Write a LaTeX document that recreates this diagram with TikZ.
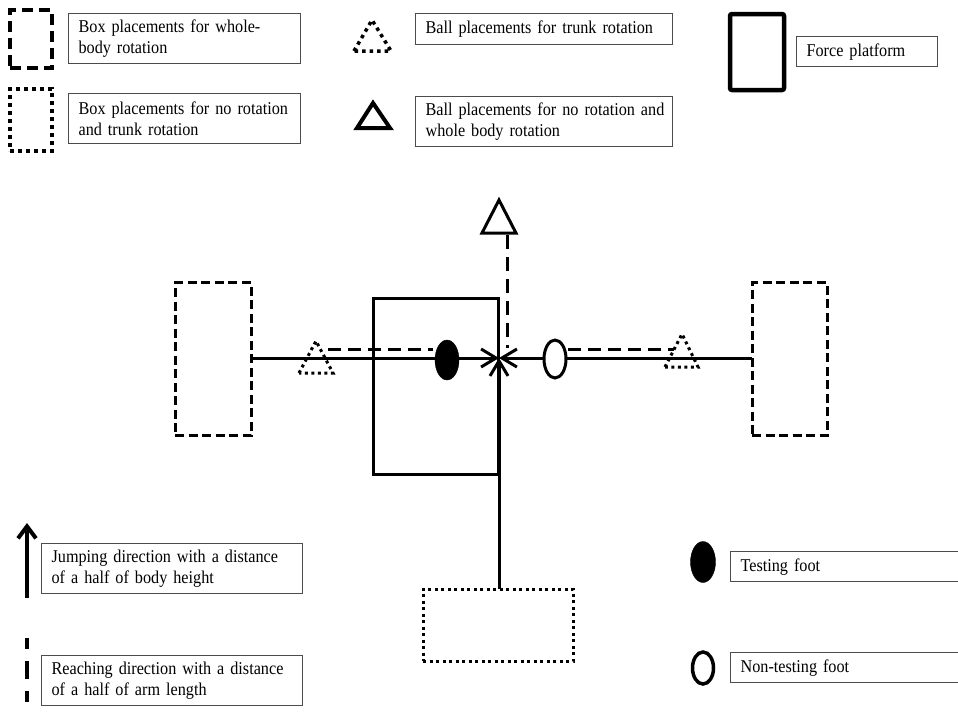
\documentclass[tikz,border=0pt]{standalone}
\usepackage{fontspec}
\setmainfont{Liberation Serif}[FakeStretch=0.9, WordSpace=0.8]
\usetikzlibrary{arrows.meta,shapes.geometric}
\tikzset{
  lbl/.style={draw=black!70, line width=1.2pt, align=left, anchor=north west,
    inner xsep=10pt, inner ysep=0pt, font=\fontsize{18}{21}\selectfont},
  solid3/.style={line width=3pt},
  dsh/.style={line width=3pt, dash pattern=on 9pt off 4.5pt},
  dshlong/.style={line width=3pt, dash pattern=on 13pt off 7pt},
  dot/.style={line width=3pt, dash pattern=on 3pt off 3.5pt},
  barb/.style={-{Straight Barb[length=15pt,width=18pt]}},
  shape0/.style={draw, inner sep=0pt, outer sep=0pt},
}
\begin{document}
\begin{tikzpicture}[x=1pt,y=-1pt]
\useasboundingbox (0,0) rectangle (958,712);
\clip (0,0) rectangle (958,712);

% ---------- legend, top ----------
\node[shape0, line width=4pt, dash pattern=on 11pt off 6pt, minimum width=42pt, minimum height=58pt] (iconwb) at (31,39) {};
\node[lbl, text width=212pt, minimum height=50pt] (lwb) at (68,13) {Box placements for whole-\\body rotation};

\node[shape0, line width=4pt, dash pattern=on 4pt off 4pt, minimum width=42pt, minimum height=62pt] (iconnr) at (31,120) {};
\node[lbl, text width=212pt, minimum height=50pt] (lnr) at (68,93) {\mbox{Box placements for no rotation}\\and trunk rotation};

\draw[line width=3.5pt, dash pattern=on 3.5pt off 4pt] (354,51) -- (372,20) -- (391,51) -- cycle;
\node[lbl, text width=237pt, minimum height=31pt] (ltr) at (415,13) {Ball placements for trunk rotation};

\draw[line width=4pt, line join=miter] (357,128) -- (373,103) -- (390,128) -- cycle;
\node[lbl, text width=237pt, minimum height=50pt] (lwr) at (415,96) {\mbox{Ball placements for no rotation and}\\whole body rotation};

\node[shape0, line width=4.5pt, rounded corners=2pt, minimum width=54pt, minimum height=76pt] (iconfp) at (757,52) {};
\node[lbl, text width=121pt, minimum height=30pt] (lfp) at (796,36) {Force platform};

% ---------- main diagram ----------
\coordinate (c) at (499,358);
\node[shape0, dsh, minimum width=76pt, minimum height=153pt] (lbox) at (213,359) {};
\node[shape0, dsh, minimum width=75pt, minimum height=153pt] (rbox) at (789.5,359) {};
\node[shape0, dot, minimum width=150pt, minimum height=72pt] (bbox) at (498,625) {};
\node[shape0, solid3, minimum width=125pt, minimum height=176pt] (fp) at (435.5,386) {};

% jumping directions
\draw[solid3, barb] (lbox.east |- c) -- (c);
\draw[solid3, barb] (rbox.west |- c) -- (c);
\draw[solid3, barb] (bbox.north -| c) -- (c);

% feet
\node[shape0, fill=black, ellipse, minimum width=24pt, minimum height=40pt] (tfoot) at (447,360) {};
\node[shape0, ellipse, line width=3pt, fill=white, minimum width=22pt, minimum height=38pt] (nfoot) at (555,359) {};

% ball placements
\draw[dot] (299,373) -- (316,341) -- (333,373) -- cycle;
\coordinate (lball) at (328,349);
\draw[dot] (665,367) -- (682,334) -- (698,367) -- cycle;
\coordinate (rball) at (674,349);
\draw[line width=3pt, line join=miter] (482,233) -- (499,200) -- (516,233) -- cycle;
\coordinate (tball) at (507,235);
\coordinate (treach) at (507,348);
\coordinate (tf) at (433,349);
\coordinate (nf) at (568,349);

% reaching directions
\draw[dshlong] (lball) -- (tf);
\draw[dshlong] (nf) -- (rball);
\draw[line width=3pt, dash pattern=on 14pt off 8pt] (tball) -- (treach);

% ---------- legend, bottom ----------
\coordinate (ja) at (27,598);
\coordinate (jb) at (27,523);
\draw[line width=4pt, -{Straight Barb[length=12pt,width=18pt]}] (ja) -- (jb);
\node[lbl, text width=241pt, minimum height=50pt] (ljump) at (41,543) {\mbox{Jumping direction with a distance}\\of a half of body height};

\coordinate (ra) at (27,638);
\coordinate (rb) at (27,715);
\draw[line width=4pt, dash pattern=on 11pt off 12pt on 18pt off 12pt] (ra) -- (rb);
\node[lbl, text width=241pt, minimum height=50pt] (lreach) at (41,655) {\mbox{Reaching direction with a distance}\\of a half of arm length};

\node[shape0, fill=black, ellipse, minimum width=25pt, minimum height=41pt] (ltf) at (703,562) {};
\node[lbl, text width=240pt, minimum height=30pt] (lt) at (730,551) {Testing foot};

\node[shape0, ellipse, line width=3.5pt, minimum width=21pt, minimum height=32pt] (lnf) at (703,668) {};
\node[lbl, text width=240pt, minimum height=30pt] (ln) at (730,652) {Non-testing foot};
\end{tikzpicture}
\end{document}
